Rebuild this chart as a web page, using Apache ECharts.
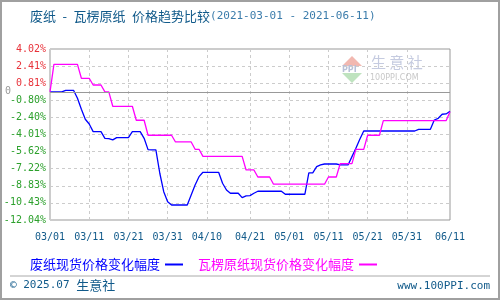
<!DOCTYPE html>
<html><head><meta charset="utf-8">
<script src="https://cdn.jsdelivr.net/npm/echarts@6/dist/echarts.min.js"></script>
<style>html,body{margin:0;padding:0;background:#fff}#c{width:500px;height:300px}</style>
</head><body><div id="c"></div>
<script>
// daily dates 2021-03-01 .. 2021-06-11
const dates = (function(){const a=[];const d=new Date(Date.UTC(2021,2,1));const e=new Date(Date.UTC(2021,5,11));while(d<=e){a.push(String(d.getUTCMonth()+1).padStart(2,'0')+'/'+String(d.getUTCDate()).padStart(2,'0'));d.setUTCDate(d.getUTCDate()+1);}return a;})();
const tickLabels = ['03/01','03/11','03/21','03/31','04/10','04/21','05/01','05/11','05/21','05/31','06/11'];
const seriesNames = ['废纸现货价格变化幅度','瓦楞原纸现货价格变化幅度'];
// 废纸 (blue)
const wastePaper = [
 0,0,0,0,0.14,0.14,0.14,-0.61,-1.64,-2.58,
 -3.02,-3.74,-3.74,-3.74,-4.37,-4.40,-4.52,-4.30,-4.30,-4.30,
 -4.30,-3.74,-3.74,-3.74,-4.37,-5.43,-5.46,-5.46,-7.65,-9.38,
 -10.32,-10.63,-10.63,-10.63,-10.63,-10.63,-9.69,-8.75,-7.97,-7.56,
 -7.56,-7.56,-7.56,-7.56,-8.59,-9.22,-9.53,-9.53,-9.53,-9.94,
 -9.78,-9.75,-9.53,-9.34,-9.34,-9.34,-9.34,-9.34,-9.34,-9.34,
 -9.62,-9.62,-9.62,-9.62,-9.62,-9.62,-7.62,-7.62,-7.03,-6.87,
 -6.78,-6.78,-6.78,-6.78,-6.87,-6.87,-6.87,-6.09,-5.30,-4.46,
 -3.68,-3.68,-3.68,-3.68,-3.68,-3.68,-3.68,-3.68,-3.68,-3.68,
 -3.68,-3.68,-3.68,-3.68,-3.52,-3.52,-3.52,-3.52,-2.65,-2.49,
 -2.11,-2.08,-1.83];
// 瓦楞原纸 (magenta)
const corrugatedPaper = [
 0,2.58,2.58,2.58,2.58,2.58,2.58,2.58,1.27,1.27,
 1.27,0.64,0.64,0.64,0,0,-1.36,-1.36,-1.36,-1.36,
 -1.36,-1.36,-2.67,-2.67,-2.67,-4.08,-4.08,-4.08,-4.08,-4.08,
 -4.08,-4.08,-4.71,-4.71,-4.71,-4.71,-4.71,-5.40,-5.40,-6.06,
 -6.06,-6.06,-6.06,-6.06,-6.06,-6.06,-6.06,-6.06,-6.06,-6.06,
 -7.34,-7.34,-7.34,-8.00,-8.00,-8.00,-8.00,-8.68,-8.68,-8.68,
 -8.68,-8.68,-8.68,-8.68,-8.68,-8.68,-8.68,-8.68,-8.68,-8.68,
 -8.68,-8.00,-8.00,-8.00,-6.75,-6.75,-6.75,-6.75,-5.40,-5.40,
 -5.40,-4.08,-4.08,-4.08,-4.08,-2.71,-2.71,-2.71,-2.71,-2.71,
 -2.71,-2.71,-2.71,-2.71,-2.71,-2.71,-2.71,-2.71,-2.71,-2.71,
 -2.71,-2.71,-1.87];
const yMin = -12.04, yMax = 4.02, yStep = 1.606;

const showIdx = new Set(dates.map((d,i)=>tickLabels.includes(d)?i:-1).filter(i=>i>=0));
const chart = echarts.init(document.getElementById('c'));
const mono = 'DejaVu Sans Mono';
const cjk = 'Noto Sans CJK SC';
chart.setOption({
  animation:false,
  backgroundColor:'#fff',
  grid:{left:50,right:50,top:49,bottom:80,show:true,borderColor:'#999',borderWidth:1},
  title:{
    text:'{a|废纸\u2002-\u2002瓦楞原纸\u2002价格趋势比较}{b|(2021-03-01 - 2021-06-11)}',
    left:25,top:5,
    textStyle:{fontWeight:'normal',rich:{
      a:{fontFamily:cjk,fontSize:13,fontWeight:'normal',color:'#115a8a'},
      b:{fontFamily:mono,fontSize:11,fontWeight:'normal',color:'#3b7cab'}
    }}
  },
  legend:{
    left:25,top:253,align:'right',itemGap:15,itemWidth:18,itemHeight:2,icon:'rect',
    textStyle:{fontFamily:cjk,fontSize:13},
    data:[{name:seriesNames[0],textStyle:{color:'#0000ff'}},{name:seriesNames[1],textStyle:{color:'#ff00ff'}}]
  },
  xAxis:{
    type:'category',data:dates,boundaryGap:false,
    axisLine:{show:false},axisTick:{show:false},
    axisLabel:{interval:(i)=>showIdx.has(i),margin:12,color:'#115a8a',fontFamily:mono,fontSize:10,hideOverlap:false},
    splitLine:{show:true,interval:(i)=>showIdx.has(i),lineStyle:{color:'#ccc',type:[3,3]}}
  },
  yAxis:{
    type:'value',min:yMin,max:yMax,interval:yStep,
    axisLine:{show:false},axisTick:{show:false},
    axisLabel:{margin:4,fontFamily:mono,fontSize:10,
      formatter:(v)=>v.toFixed(2)+'%',
      color:(v)=> (+v>0?'#e8323a':'#2ca02c')},
    splitLine:{show:true,lineStyle:{color:'#ccc',type:[3,3]}}
  },
  series:[
    {name:seriesNames[0],type:'line',data:wastePaper,showSymbol:false,lineStyle:{color:'#0000ff',width:1.3},itemStyle:{color:'#0000ff'},
     markLine:{silent:true,symbol:'none',data:[{yAxis:0}],lineStyle:{color:'#999',type:'solid',width:1},
       label:{position:'start',formatter:'0',color:'#999',fontFamily:mono,fontSize:10,distance:39}}},
    {name:seriesNames[1],type:'line',data:corrugatedPaper,showSymbol:false,lineStyle:{color:'#ff00ff',width:1.3},itemStyle:{color:'#ff00ff'}}
  ],
  graphic:[
    {type:'rect',z:-1,shape:{x:1,y:1,width:498,height:298},style:{fill:'none',stroke:'#a0a0a0',lineWidth:2}},
    {type:'line',shape:{x1:10,y1:276,x2:490,y2:276},style:{stroke:'#aaa',lineWidth:1}},
    {type:'text',left:10,top:279,style:{text:'{m|© 2025.07 }{c|生意社}',rich:{m:{fontFamily:mono,fontSize:11,fill:'#115a8a'},c:{fontFamily:cjk,fontSize:13,fill:'#115a8a'}}}},
    {type:'text',right:10,top:281,style:{text:'www.100PPI.com',fontFamily:mono,fontSize:11,fill:'#115a8a'}},
    {type:'polygon',z:-1,shape:{points:[[352,56],[342,66],[362,66]]},style:{fill:'#f2b8b0'}},
    {type:'polygon',z:-1,shape:{points:[[342,73],[362,73],[352,83]]},style:{fill:'#bfe3bf'}},
    {type:'text',z:-1,left:342,top:66,style:{text:'PPI',fontFamily:'DejaVu Sans',fontSize:8,fontWeight:'bold',fill:'#b8c0d8'}},
    {type:'text',z:-1,left:371,top:55,style:{text:'生 意 社',fontFamily:cjk,fontSize:15,fill:'#c5cbe0'}},
    {type:'text',z:-1,left:370,top:74,style:{text:'100PPI.COM',fontFamily:'DejaVu Sans',fontSize:8,fill:'#c8c8c8'}}
  ]
});
</script></body></html>
